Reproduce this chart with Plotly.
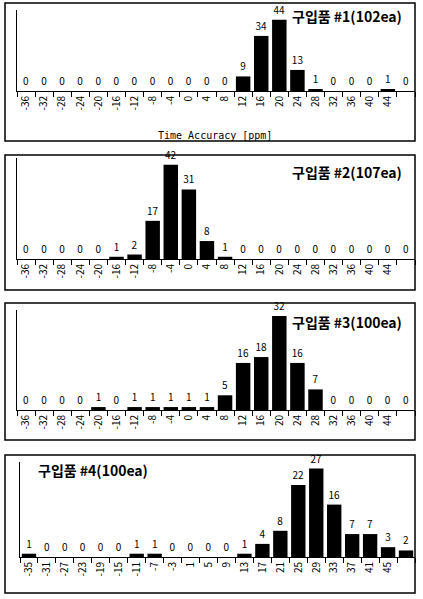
import plotly.graph_objects as go

ticks_a = [str(v) for v in range(-36, 45, 4)]
ticks_b = [str(v) for v in range(-35, 46, 4)]

counts1 = [0, 0, 0, 0, 0, 0, 0, 0, 0, 0, 0, 0, 9, 34, 44, 13, 1, 0, 0, 0, 1, 0]
counts2 = [0, 0, 0, 0, 0, 1, 2, 17, 42, 31, 8, 1, 0, 0, 0, 0, 0, 0, 0, 0, 0, 0]
counts3 = [0, 0, 0, 0, 1, 0, 1, 1, 1, 1, 1, 5, 16, 18, 32, 16, 7, 0, 0, 0, 0, 0]
counts4 = [1, 0, 0, 0, 0, 0, 1, 1, 0, 0, 0, 0, 1, 4, 8, 22, 27, 16, 7, 7, 3, 2]

titles = ["구입품 #1(102ea)", "구입품 #2(107ea)", "구입품 #3(100ea)", "구입품 #4(100ea)"]

H, W = 599, 423
def py(p):
    return 1 - p / H

panels = [
    # counts, ticks, (baseline px, top px), ymax, box (top, bottom), title (x px, y px), left px
    (counts1, ticks_a, (91, 10), 50, (3, 141), (290, 16), 17),
    (counts2, ticks_a, (259, 158), 45, (155, 290), (290, 172), 17),
    (counts3, ticks_a, (410, 310), 34, (303, 440), (290, 322), 17),
    (counts4, ticks_b, (557, 462), 29, (455, 593), (36, 470), 20),
]

fig = go.Figure()
font = "Noto Sans CJK KR"
for i, (cnt, tk, (base, top), ymax, (bt, bb), (tx, ty), left) in enumerate(panels):
    n = i + 1
    xa = "x" if n == 1 else f"x{n}"
    ya = "y" if n == 1 else f"y{n}"
    cats = tk + [" "]
    fig.add_trace(go.Bar(
        x=cats, y=cnt, xaxis=xa, yaxis=ya,
        marker=dict(color="black", line=dict(color="black", width=0)),
        width=0.8, text=[str(c) for c in cnt], textposition="outside",
        textfont=dict(size=10, color="black", family=font), cliponaxis=False,
        showlegend=False,
    ))
    fig.layout[f"xaxis{'' if n == 1 else n}"] = dict(
        domain=[left / W, 415 / W], anchor=ya, type="category",
        categoryorder="array", categoryarray=cats,
        tickson="boundaries", ticks="outside", ticklen=5, tickcolor="black",
        showline=True, linecolor="black", linewidth=1, tickangle=-90,
        tickfont=dict(size=10, color="black", family=font), showgrid=False,
    )
    fig.layout[f"yaxis{'' if n == 1 else n}"] = dict(
        domain=[py(base), py(top)], anchor=xa, range=[0, ymax],
        showline=True, linecolor="black", linewidth=1,
        showticklabels=False, ticks="", showgrid=False, zeroline=False,
    )
    fig.add_shape(type="rect", xref="paper", yref="paper",
                  x0=5 / W, x1=415 / W, y0=py(bb), y1=py(bt),
                  line=dict(color="black", width=1.5))
    fig.add_annotation(text=f"<b>{titles[i]}</b>", xref="paper", yref="paper",
                       x=tx / W, y=py(ty), xanchor="left", yanchor="middle",
                       showarrow=False, font=dict(size=14, color="black", family=font))

fig.add_annotation(text="Time Accuracy [ppm]", xref="paper", yref="paper",
                   x=215 / W, y=py(128), showarrow=False,
                   font=dict(size=10, color="black", family="DejaVu Sans Mono"))

fig.update_layout(width=W, height=H, margin=dict(l=0, r=0, t=0, b=0),
                  plot_bgcolor="white", paper_bgcolor="white", bargap=0.2)
fig.write_html("out.html", config={"displayModeBar": False},
               post_script="document.body.style.margin='0';document.body.style.overflow='hidden';")
